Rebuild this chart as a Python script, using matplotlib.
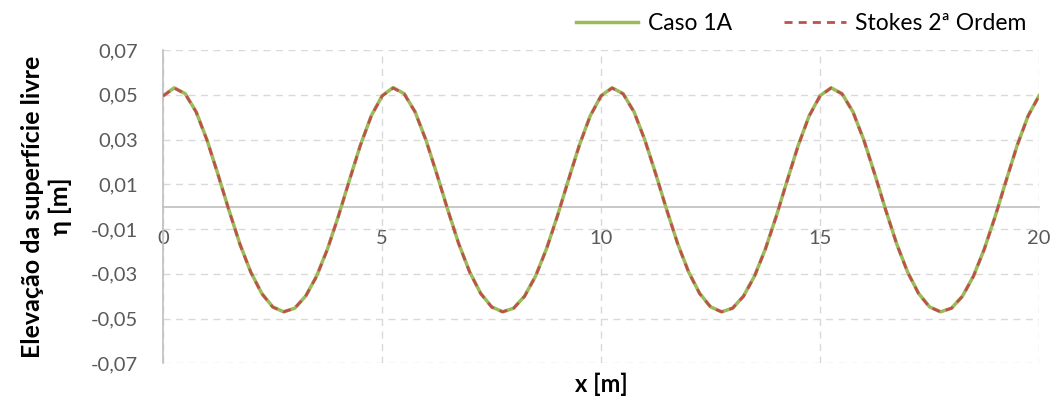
from matplotlib import pyplot as plt
import numpy as np

# Elevação da superfície livre ao longo do canal (x de 0 a 20 m, passo 0,25 m)
x = np.arange(0, 20.01, 0.25)

caso_1a = [
    0.0496, 0.0531, 0.0505, 0.0424, 0.0297, 0.0144, -0.0016, -0.0167, -0.0293, -0.0388,
    -0.0448, -0.0470, -0.0454, -0.0400, -0.0311, -0.0189, -0.0042, 0.0118, 0.0274, 0.0406,
    0.0496, 0.0532, 0.0505, 0.0424, 0.0297, 0.0144, -0.0016, -0.0167, -0.0293, -0.0388,
    -0.0448, -0.0470, -0.0454, -0.0400, -0.0311, -0.0189, -0.0042, 0.0118, 0.0274, 0.0406,
    0.0496, 0.0531, 0.0505, 0.0424, 0.0297, 0.0144, -0.0016, -0.0167, -0.0293, -0.0388,
    -0.0448, -0.0470, -0.0454, -0.0400, -0.0311, -0.0189, -0.0042, 0.0118, 0.0274, 0.0406,
    0.0496, 0.0531, 0.0505, 0.0424, 0.0297, 0.0144, -0.0016, -0.0167, -0.0293, -0.0388,
    -0.0448, -0.0470, -0.0454, -0.0400, -0.0311, -0.0189, -0.0042, 0.0118, 0.0274, 0.0406,
    0.0496,
]

stokes_2 = [
    0.0495, 0.0530, 0.0504, 0.0423, 0.0296, 0.0143, -0.0017, -0.0168, -0.0294, -0.0389,
    -0.0449, -0.0470, -0.0454, -0.0401, -0.0312, -0.0190, -0.0043, 0.0117, 0.0273, 0.0405,
    0.0495, 0.0530, 0.0504, 0.0423, 0.0296, 0.0143, -0.0017, -0.0168, -0.0294, -0.0389,
    -0.0449, -0.0470, -0.0454, -0.0401, -0.0312, -0.0190, -0.0043, 0.0117, 0.0273, 0.0405,
    0.0495, 0.0530, 0.0504, 0.0423, 0.0296, 0.0143, -0.0017, -0.0168, -0.0294, -0.0389,
    -0.0449, -0.0470, -0.0454, -0.0401, -0.0312, -0.0190, -0.0043, 0.0117, 0.0273, 0.0405,
    0.0495, 0.0530, 0.0504, 0.0423, 0.0296, 0.0143, -0.0017, -0.0168, -0.0294, -0.0389,
    -0.0449, -0.0470, -0.0454, -0.0401, -0.0312, -0.0190, -0.0043, 0.0117, 0.0273, 0.0405,
    0.0495,
]

x_ticks = [0, 5, 10, 15, 20]
y_ticks = [-0.07, -0.05, -0.03, -0.01, 0.01, 0.03, 0.05, 0.07]

plt.rcParams['font.family'] = ['Lato', 'DejaVu Sans']

fig = plt.figure(figsize=(10.52, 3.99), dpi=100)
ax = fig.add_axes([0.1552, 0.0895, 0.8325, 0.7852])

ax.plot(x, caso_1a, color="#9BBB59", linewidth=2.5, label="Caso 1A", zorder=3)
ax.plot(x, stokes_2, color="#C0504D", linewidth=2.0, linestyle=(0, (2.9, 2.2)),
        label="Stokes 2ª Ordem", zorder=4)

ax.set_xlim(0, 20)
ax.set_ylim(-0.07, 0.07)
ax.set_xticks(x_ticks)
ax.set_yticks(y_ticks)
ax.set_yticklabels([f"{v:.2f}".replace(".", ",") for v in y_ticks])

ax.grid(True, linestyle=(0, (5, 4)), color="#D9D9D9", linewidth=1)
ax.set_axisbelow(True)

for s in ["top", "right"]:
    ax.spines[s].set_visible(False)
ax.spines["left"].set_color("#BFBFBF")
ax.spines["left"].set_linewidth(1.2)
ax.spines["bottom"].set_position(("data", 0))
ax.spines["bottom"].set_color("#BFBFBF")
ax.spines["bottom"].set_linewidth(1.2)

ax.tick_params(axis="both", length=0, labelsize=14.5, labelcolor="#595959")
ax.tick_params(axis="y", pad=18)
ax.tick_params(axis="x", pad=17)

ax.set_ylabel("Elevação da superfície livre\nη [m]", fontsize=18, fontweight="bold",
              linespacing=1.25)
ax.yaxis.set_label_coords(-0.104, 0.5)
ax.set_xlabel("x [m]", fontsize=17, fontweight="bold")
ax.xaxis.set_label_coords(0.5, -0.03)

fig.legend(loc="center right", bbox_to_anchor=(0.976, 0.942), ncol=2, frameon=False,
           fontsize=16.5, handlelength=2.7, handletextpad=0.4, columnspacing=2.3,
           borderpad=0, borderaxespad=0)

plt.savefig("out.png", dpi=100)
